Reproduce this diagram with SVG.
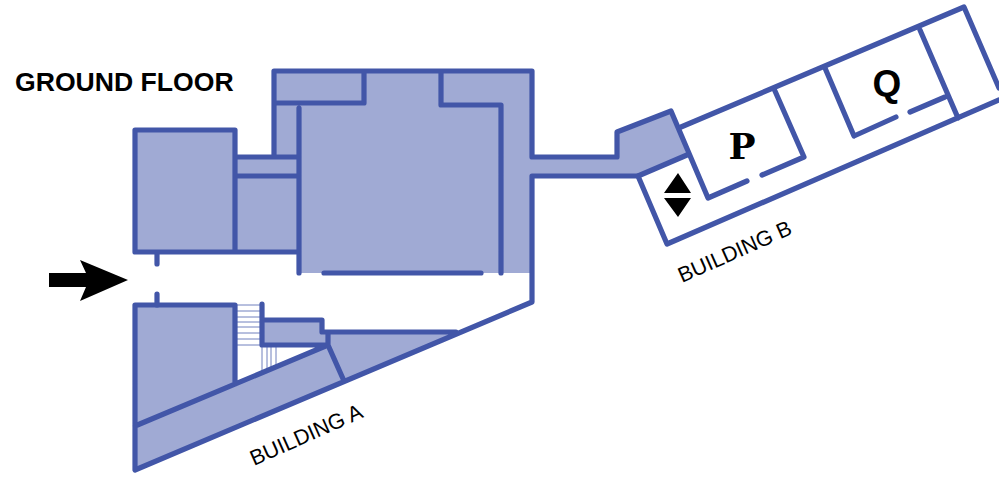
<svg xmlns="http://www.w3.org/2000/svg" width="999" height="478" viewBox="0 0 999 478">
<style>
.f{fill:#a0aad4;stroke:none}
.w{fill:none;stroke:#4256a8;stroke-width:5.2;stroke-linecap:round;stroke-linejoin:round}
.s{fill:none;stroke:#4256a8;stroke-width:1;opacity:.75}
.t{font-family:"Liberation Sans",Arial,sans-serif;fill:#000}
.m{font-weight:700;fill:#000;text-anchor:middle}
</style>
<rect width="999" height="478" fill="#fff"/>
<g id="fills">
<path class="f" d="M274 71H532V157H617V132L671 111L687 155L638 176H532V273H299V252H135V130H235V157H274Z"/>
<path class="f" d="M135 305H235V397L135 426Z"/>
<path class="f" d="M135 426L328 345L262 345V320H322V332H457L135 470Z"/>
</g>
<g id="connectors">
<path class="s" d="M237 305H262M237 311H262M237 317H262M237 322H262M237 327H262M237 333H262M237 339H262M237 345H262M262 346V372M267 346V370M271 346V369M276 346V367"/>
</g>
<g id="building-a">
<path class="w" d="M299 273V108M274 103H364V71M274 157V71H532V157H617V132L671 111L708 198L747 181M441 71V105H501V273M236 157H299M236 176H299M135 252V130H235V252M135 252H299M157 252V264M157 294V305M324 273H481"/>
<path class="w" d="M532 176V302L135 470V305H235V384M135 426L328 345H262V304M262 320H322V332H456M328 332V345L344 381M532 176H638"/>
</g>
<g id="building-b">
<path class="w" d="M638 176L687 155M638 176L667 244L999 100M681 127L964 7L999 88M775 91L804 157L762 175M825 68L854 136L896 117M910 112L945 97M920 30L958 118"/>
</g>
<g id="entrance-arrow"><path d="M49 273H86L80 260L128 280L80 301L86 287H49Z" fill="#000"/></g>
<g id="lift"><path d="M678 173L691 193H664ZM678 217L664 198H691Z" fill="#000"/></g>
<g id="labels">
<text class="t" x="15" y="91" font-size="26.6" font-weight="700">GROUND FLOOR</text>
<text class="t" x="0" y="0" font-size="21.5" transform="translate(254 466) rotate(-24)">BUILDING A</text>
<text class="t" x="0" y="0" font-size="21.5" transform="translate(682 283) rotate(-24)">BUILDING B</text>
<text class="m" x="742" y="159" font-size="36" font-family="'DejaVu Serif',serif">P</text>
<text class="m" x="887" y="96" font-size="37" font-family="'Liberation Sans',sans-serif">Q</text>
</g>
</svg>
